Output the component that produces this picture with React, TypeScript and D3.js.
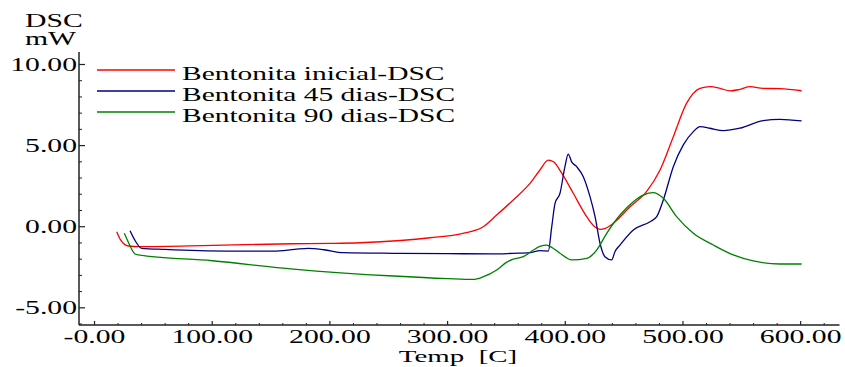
import React from "react";
import * as d3 from "d3";

// Temperature (°C) and DSC (mW) readings for each sample
const inicialT = [18.9, 22, 28.7, 38.7, 100, 169, 200, 225.6, 260, 285, 313, 330, 341.7, 355.8, 370, 378, 385.6, 390, 397, 406.8, 418.2, 425, 429.5, 434, 440.8, 455, 469, 480.5, 491.8, 503, 514.5, 523, 531.5, 540, 548.4, 557, 568, 582.4, 600.8];
const inicialV = [-0.31, -0.8, -1.19, -1.23, -1.15, -1.05, -1.03, -0.99, -0.85, -0.68, -0.41, -0.02, 0.72, 1.65, 2.67, 3.45, 4.11, 4.0, 3.3, 2.06, 0.62, 0.0, -0.16, -0.1, 0.21, 1.23, 2.16, 3.5, 5.55, 7.6, 8.53, 8.63, 8.53, 8.37, 8.47, 8.63, 8.53, 8.51, 8.38];

const dias45T = [30.2, 34, 40.1, 60, 112.3, 152, 170, 181.6, 195, 211.4, 253.9, 300, 338.8, 355.8, 370, 378.5, 385.6, 388.5, 391.3, 395.5, 399.7, 402.5, 405.4, 409.7, 415.3, 421, 425.3, 429.5, 433.7, 439.4, 442.2, 446.5, 457.8, 472, 477.7, 483.3, 491.8, 500.3, 508.8, 514.5, 523, 534.2, 548.4, 568, 582.4, 600.8];
const dias45V = [-0.25, -0.8, -1.33, -1.4, -1.5, -1.5, -1.4, -1.33, -1.42, -1.6, -1.64, -1.66, -1.68, -1.64, -1.6, -1.48, -1.5, 0, 1.44, 2.06, 3.7, 4.48, 4.0, 3.7, 3.08, 1.85, 0.62, -1.02, -1.85, -2.05, -1.54, -1.13, -0.2, 0.31, 0.62, 1.65, 3.7, 5.04, 5.86, 6.17, 6.07, 5.92, 6.07, 6.54, 6.62, 6.52];

const dias90T = [25.3, 29, 34.4, 37.2, 100, 169, 254, 300, 321.8, 330, 341.7, 350, 355.8, 364.3, 372.8, 379, 384.2, 389, 395.5, 405.4, 418.2, 426.7, 435.2, 446.5, 457.8, 466.3, 474.8, 483.3, 494.6, 508.8, 525.8, 542.7, 559.7, 582.4, 600.8];
const dias90V = [-0.41, -1.0, -1.68, -1.74, -2.1, -2.61, -3.04, -3.2, -3.25, -3.1, -2.67, -2.2, -2.0, -1.85, -1.44, -1.2, -1.13, -1.3, -1.64, -2.05, -1.95, -1.44, -0.41, 0.72, 1.54, 1.95, 2.1, 1.75, 0.62, -0.41, -1.13, -1.74, -2.11, -2.3, -2.3];

const seriesNames = ["Bentonita inicial-DSC", "Bentonita 45 dias-DSC", "Bentonita 90 dias-DSC"];
const seriesColors = ["#ff0000", "#000080", "#008000"];

const xMajorTicks = [0, 100, 200, 300, 400, 500, 600];
const xTickLabels = ["-0.00", "100.00", "200.00", "300.00", "400.00", "500.00", "600.00"];
const yMajorTicks = [-5, 0, 5, 10];
const yTickLabels = ["-5.00", "0.00", "5.00", "10.00"];

const W = 845;
const H = 367;
const FONT = "'Liberation Serif', 'Times New Roman', serif";
const SX = 1.65;

export default function App() {
  const x = d3.scaleLinear().domain([-13.2, 633]).range([79, 839.5]);
  const y = d3.scaleLinear().domain([-6.06, 10.77]).range([325, 52]);

  const series = [
    inicialT.map((t, i) => [t, inicialV[i]]),
    dias45T.map((t, i) => [t, dias45V[i]]),
    dias90T.map((t, i) => [t, dias90V[i]]),
  ];

  const line = d3
    .line<number[]>()
    .x((d) => x(d[0]))
    .y((d) => y(d[1]))
    .curve(d3.curveMonotoneX);

  const xMinor = d3.range(20, 640, 20).filter((v) => v % 100 !== 0 && x(v) < 839);
  const yMinor = d3.range(-6, 11, 1).filter((v) => v % 5 !== 0);

  const x0 = x.range()[0];
  const y0 = y.range()[0];

  return (
    <svg
      width={W}
      height={H}
      style={{ position: "absolute", left: 0, top: 0, background: "#fff" }}
      fontFamily={FONT}
    >
      {/* axes */}
      <line x1={x0} x2={x0} y1={y.range()[1]} y2={y0} stroke="#222" strokeWidth={1.5} />
      <line x1={x0} x2={x.range()[1]} y1={y0} y2={y0} stroke="#222" strokeWidth={1.5} />

      {yMajorTicks.map((v, i) => (
        <g key={"ym" + v}>
          <line x1={x0} x2={x0 + 6} y1={y(v)} y2={y(v)} stroke="#222" strokeWidth={1.2} />
          <text
            transform={`translate(${x0 - 2},${y(v) + 6.5}) scale(${SX},1)`}
            textAnchor="end"
            fontSize={18}
            fill="#000"
          >
            {yTickLabels[i]}
          </text>
        </g>
      ))}
      {yMinor.map((v) => (
        <line key={"yn" + v} x1={x0} x2={x0 + 3} y1={y(v)} y2={y(v)} stroke="#222" strokeWidth={1} />
      ))}

      {xMajorTicks.map((v, i) => (
        <g key={"xm" + v}>
          <line x1={x(v)} x2={x(v)} y1={y0} y2={y0 - 4} stroke="#222" strokeWidth={1.2} />
          <text
            transform={`translate(${x(v)},${y0 + 18}) scale(${SX},1)`}
            textAnchor="middle"
            fontSize={18}
            fill="#000"
          >
            {xTickLabels[i]}
          </text>
        </g>
      ))}
      {xMinor.map((v) => (
        <line key={"xn" + v} x1={x(v)} x2={x(v)} y1={y0} y2={y0 - 2} stroke="#222" strokeWidth={1} />
      ))}

      {/* axis titles */}
      <text transform={`translate(25,27) scale(${SX},1)`} fontSize={18} fill="#000">DSC</text>
      <text transform={`translate(25,45) scale(${SX},1)`} fontSize={18} fill="#000">mW</text>
      <text
        transform={`translate(458,362) scale(1.7,1)`}
        textAnchor="middle"
        fontSize={17}
        fill="#000"
        style={{ whiteSpace: "pre" }}
      >
        {"Temp  [C]"}
      </text>

      {/* curves */}
      {series.map((s, i) => (
        <path key={"s" + i} d={line(s) || ""} fill="none" stroke={seriesColors[i]} strokeWidth={1.3} />
      ))}

      {/* legend */}
      {seriesNames.map((n, i) => (
        <g key={"lg" + i}>
          <line x1={97} x2={175} y1={70 + i * 21} y2={70 + i * 21} stroke={seriesColors[i]} strokeWidth={1.3} />
          <text
            transform={`translate(182,${79.5 + i * 21}) scale(1.55,1)`}
            fontSize={19}
            fill="#000"
          >
            {n}
          </text>
        </g>
      ))}
    </svg>
  );
}
